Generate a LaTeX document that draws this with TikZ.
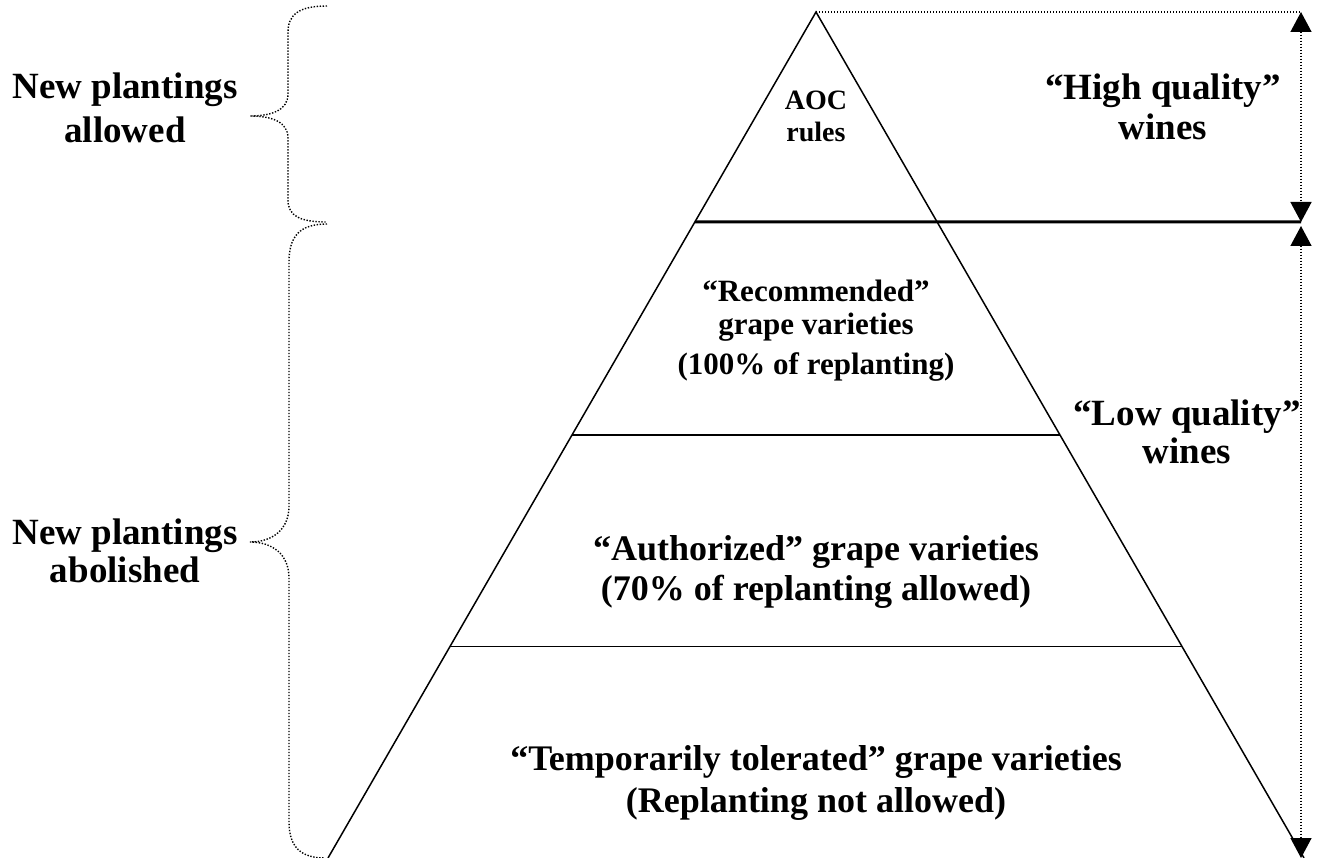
\documentclass[tikz,border=0pt]{standalone}
\usepackage{fontspec}
\setmainfont{Liberation Serif}
\usetikzlibrary{arrows.meta,calc}
\begin{document}
\begin{tikzpicture}[x=1pt,y=-1pt,
  edge/.style={line width=1.5pt, line join=miter},
  thickline/.style={line width=3pt},
  dotline/.style={line width=1.4pt, dash pattern=on 1.4pt off 1.6pt},
  dimarrow/.style={dotline, {Triangle[width=21pt,length=20pt]}-{Triangle[width=21pt,length=20pt]}},
  big/.style={font=\fontsize{37}{42}\selectfont\bfseries, inner sep=0pt, anchor=base},
  mid/.style={font=\fontsize{31}{35}\selectfont\bfseries, inner sep=0pt, anchor=base},
  low/.style={font=\fontsize{36}{40}\selectfont\bfseries, inner sep=0pt, anchor=base},
  small/.style={font=\fontsize{28}{32}\selectfont\bfseries, inner sep=0pt, anchor=base}
]
\useasboundingbox (0,0) rectangle (1317,858);

% pyramid
\coordinate (apex) at (816,12);
\coordinate (bl) at (328,858);
\coordinate (br) at (1304,858);
\coordinate (l1) at ($(apex)!0.248!(bl)$);
\coordinate (l2) at ($(apex)!0.5!(bl)$);
\coordinate (r2) at ($(apex)!0.5!(br)$);
\coordinate (l3) at ($(apex)!0.75!(bl)$);
\coordinate (r3) at ($(apex)!0.75!(br)$);
\coordinate (top) at (1301,12);
\coordinate (midr) at (1301,222);
\coordinate (midup) at (1301,226);
\coordinate (bot) at (1301,858);

\draw[edge] (bl) -- (apex) -- (br);
\draw[edge] (l2) -- (r2);
\draw[edge] (l3) -- (r3);
\draw[thickline] (l1) -- (midr);

% dimension arrows
\draw[dotline] (apex) -- (top);
\draw[dimarrow] (top) -- (midr);
\draw[dimarrow] (midup) -- (bot);

% braces
\draw[dotline] (327,6) .. controls (300,6) and (288,14) .. (288,32) -- (288,94)
  .. controls (288,110) and (272,116) .. (250,116)
  .. controls (272,116) and (288,122) .. (288,138) -- (288,200)
  .. controls (288,216) and (300,222) .. (327,222);
\draw[dotline] (327,224) .. controls (300,224) and (289,236) .. (289,262) -- (289,506)
  .. controls (289,530) and (272,542) .. (250,542)
  .. controls (272,542) and (289,554) .. (289,578) -- (289,822)
  .. controls (289,846) and (300,858) .. (325,858);

% left labels
\node[big] (na1) at (125,99) {New plantings};
\node[big] (na2) at (125,143) {allowed};
\node[big] (nb1) at (125,544) {New plantings};
\node[big] (nb2) at (125,582) {abolished};

% right labels
\node[big] (hq1) at (1163,100) {“High quality”};
\node[big] (hq2) at (1163,140) {wines};
\node[big] (lq1) at (1187,425) {“Low quality”};
\node[big] (lq2) at (1187,463) {wines};

% pyramid texts
\node[small] (aoc1) at (816,110) {AOC};
\node[small] (aoc2) at (816,142) {rules};
\node[mid] (rec1) at (816,302) {“Recommended”};
\node[mid] (rec2) at (816,335) {grape varieties};
\node[mid] (rec3) at (816,375) {(100\% of replanting)};
\node[low] (au1) at (816,560) {“Authorized” grape varieties};
\node[low] (au2) at (816,600) {(70\% of replanting allowed)};
\node[low] (tt1) at (816,770) {“Temporarily tolerated” grape varieties};
\node[low] (tt2) at (816,812) {(Replanting not allowed)};
\end{tikzpicture}
\end{document}
